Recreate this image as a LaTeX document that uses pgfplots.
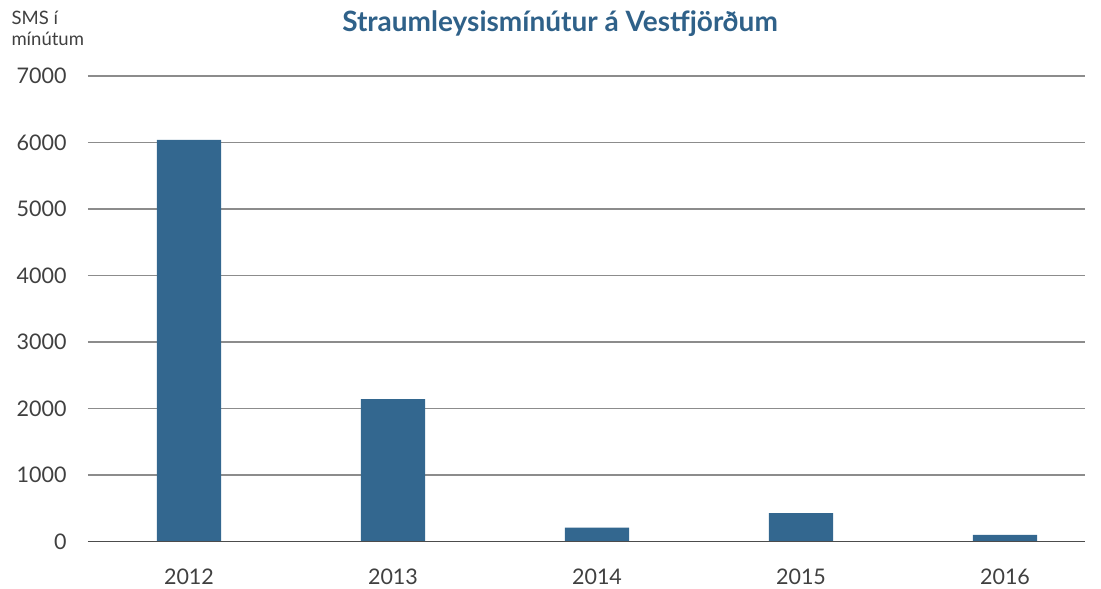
\documentclass[border=0pt]{standalone}
\usepackage{pgfplots}
\pgfplotsset{compat=1.18}
\usepackage{fontspec}
\setmainfont{Lato}
\definecolor{barblue}{HTML}{33678F}
\definecolor{titleblue}{HTML}{2F6189}
\definecolor{txt}{HTML}{404040}
\begin{document}
\begin{tikzpicture}
\path[use as bounding box] (-88bp,-47.5bp) rectangle (1013bp,541.5bp);
\begin{axis}[
  scale only axis,
  width=997bp, height=465.5bp,
  xmin=-0.495, xmax=4.392,
  ymin=0, ymax=7000,
  xtick={0,1,2,3,4},
  xticklabels={2012,2013,2014,2015,2016},
  ytick={0,1000,...,7000},
  axis line style={draw=none},
  axis x line*=bottom,
  ymajorgrids,
  grid style={draw=black!45, line width=1.2bp},
  major tick length=0pt,
  tick style={draw=none},
  scaled y ticks=false,
  /pgf/number format/assume math mode=true,
  /pgf/number format/1000 sep={},
  ticklabel style={font=\fontsize{21.5bp}{24bp}\selectfont, text=txt},
  yticklabel style={xshift=-18bp},
  xticklabel style={yshift=-24bp},
]
\addplot[ybar, bar width=0.315, fill=barblue, draw=none] coordinates {
  (0,6040) (1,2140) (2,210) (3,425) (4,100)
};
\draw[black!70, line width=1.4bp] (axis cs:-0.495,0) -- (axis cs:4.392,0);
\end{axis}
\node[anchor=west, align=left, text=txt, font=\fontsize{18.5bp}{21bp}\selectfont] at (-80bp,513bp) {SMS í\\mínútum};
\node[text=titleblue, font=\fontsize{28bp}{32bp}\selectfont\bfseries] at (472bp,518bp) {Straumleysismínútur á Vestfjörðum};
\end{tikzpicture}
\end{document}
